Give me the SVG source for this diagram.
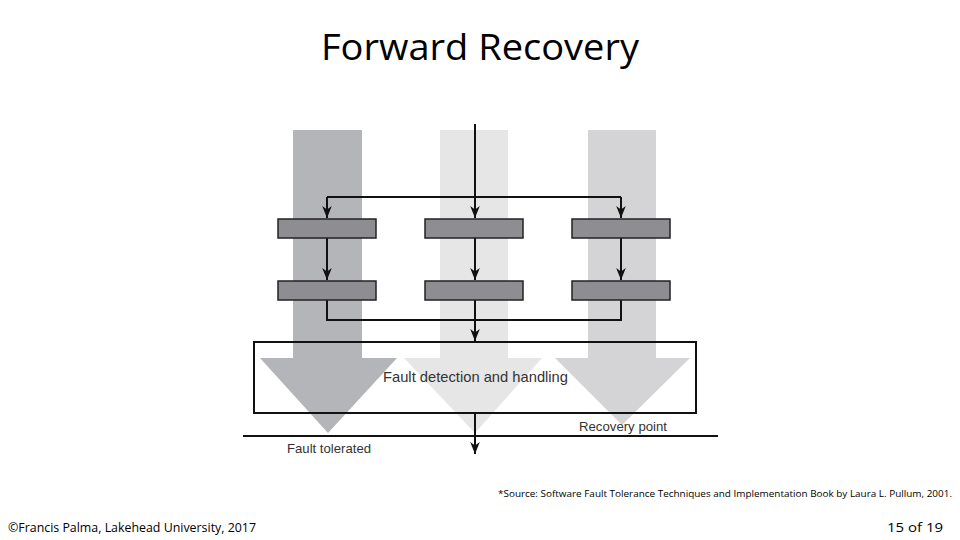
<svg xmlns="http://www.w3.org/2000/svg" width="960" height="540" viewBox="0 0 960 540">
<style>
.b{fill:#8e8e92;stroke:#222;stroke-width:1.5}
.c{stroke:#111;stroke-width:2;fill:none}
.t{font-family:"Liberation Sans",Arial,sans-serif;fill:#333}
</style>
<defs><marker id="a" markerWidth="12" markerHeight="12" refX="10" refY="5" orient="auto" markerUnits="userSpaceOnUse" viewBox="0 0 10 10"><path d="M0,1 L10,5 L0,9 L3,5 z" fill="#111"/></marker></defs>
<rect width="960" height="540" fill="#fff"/>
<text x="480" y="60" text-anchor="middle" font-family="'Open Sans',sans-serif" font-size="36" textLength="318" lengthAdjust="spacingAndGlyphs">Forward Recovery</text>
<g id="bigarrows">
<path d="M293,130 H362 V358 H397 L328,433 L260,358 H293 Z" fill="#b4b5b9"/>
<path d="M440,130 H508 V358 H542 L475,433 L404,358 H440 Z" fill="#e6e6e6"/>
<path d="M588,130 H656 V358 H690 L622,425 L555,358 H588 Z" fill="#d4d4d6"/>
</g>
<g id="connectors">
<path class="c" d="M475,124 V218" marker-end="url(#a)"/>
<path class="c" d="M327,197 H621"/>
<path class="c" d="M327,197 V218" marker-end="url(#a)"/>
<path class="c" d="M621,197 V218" marker-end="url(#a)"/>
<path class="c" d="M327,238 V280" marker-end="url(#a)"/>
<path class="c" d="M475,238 V280" marker-end="url(#a)"/>
<path class="c" d="M621,238 V280" marker-end="url(#a)"/>
<path class="c" d="M327,300 V320 H621 V300"/>
<path class="c" d="M475,300 V341" marker-end="url(#a)"/>
<path class="c" d="M475,413 V454" marker-end="url(#a)"/>
<path stroke="#111" stroke-width="2" d="M243,436 H718"/>
</g>
<g id="boxes">
<rect class="b" x="278" y="219" width="98" height="19"/>
<rect class="b" x="425" y="219" width="98" height="19"/>
<rect class="b" x="572" y="219" width="98" height="19"/>
<rect class="b" x="278" y="281" width="98" height="19"/>
<rect class="b" x="425" y="281" width="98" height="19"/>
<rect class="b" x="572" y="281" width="98" height="19"/>
</g>
<g id="fdh"><rect x="254" y="342" width="442" height="71" fill="none" stroke="#111" stroke-width="2"/>
<text class="t" x="383" y="382" font-size="15" textLength="185" lengthAdjust="spacingAndGlyphs">Fault detection and handling</text></g>
<text class="t" x="579" y="431" font-size="13" textLength="88" lengthAdjust="spacingAndGlyphs">Recovery point</text>
<text class="t" x="287" y="453" font-size="13" textLength="84" lengthAdjust="spacingAndGlyphs">Fault tolerated</text>
<text x="498" y="497" font-family="'Open Sans',sans-serif" font-size="9" textLength="454" lengthAdjust="spacingAndGlyphs">*Source: Software Fault Tolerance Techniques and Implementation Book by Laura L. Pullum, 2001.</text>
<text x="8" y="532" font-family="'Open Sans',sans-serif" font-size="12" textLength="248" lengthAdjust="spacingAndGlyphs">©Francis Palma, Lakehead University, 2017</text>
<text x="943" y="532" text-anchor="end" font-family="'Open Sans',sans-serif" font-size="12" textLength="56" lengthAdjust="spacingAndGlyphs">15 of 19</text>
</svg>
